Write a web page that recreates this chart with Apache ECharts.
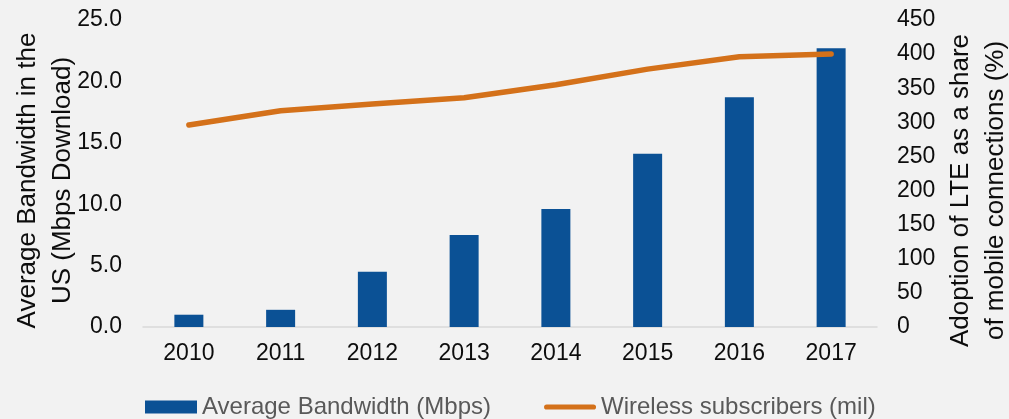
<!DOCTYPE html>
<html>
<head>
<meta charset="utf-8">
<script src="https://cdn.jsdelivr.net/npm/echarts@6/dist/echarts.min.js"></script>
<style>
  html, body { margin: 0; padding: 0; background: #f2f2f2; }
  #chart { width: 1009px; height: 419px; }
</style>
</head>
<body>
<div id="chart"></div>
<script>
const years = ['2010', '2011', '2012', '2013', '2014', '2015', '2016', '2017']
const bandwidth = [1.0, 1.4, 4.5, 7.5, 9.6, 14.1, 18.7, 22.7]
const subscribers = [296, 317, 327, 336, 355, 378, 396, 400]

const font = 'Liberation Sans, Arial, sans-serif'
const chart = echarts.init(document.getElementById('chart'))
chart.setOption({
  backgroundColor: '#f2f2f2',
  animation: false,
  textStyle: { fontFamily: font },
  grid: { left: 143, right: 132, top: 20, bottom: 92, outerBoundsMode: 'none' },
  legend: {
    top: 390,
    left: 140,
    itemGap: 53,
    itemWidth: 52,
    itemHeight: 13,
    textStyle: { color: '#595959', fontSize: 24, fontFamily: font },
    data: [
      { name: 'Average Bandwidth (Mbps)', icon: 'rect' },
      { name: 'Wireless subscribers (mil)', icon: 'path://M3,0h54a3,3 0 0 1 0,6h-54a3,3 0 0 1 0,-6z' }
    ]
  },
  xAxis: {
    type: 'category',
    data: years,
    axisLine: { lineStyle: { color: '#d9d9d9', width: 1.5 } },
    axisTick: { show: false },
    axisLabel: { color: '#0d0d0d', fontSize: 23, margin: 15 }
  },
  yAxis: [
    {
      type: 'value',
      min: 0,
      max: 25,
      interval: 5,
      name: 'Average Bandwidth in the\nUS (Mbps Download)',
      nameLocation: 'middle',
      nameGap: 63,
      nameRotate: 90,
      nameMoveOverlap: false,
      nameTextStyle: { color: '#0d0d0d', fontSize: 26, lineHeight: 35, padding: [0, 14, 0, 0] },
      axisLabel: {
        color: '#0d0d0d',
        fontSize: 23,
        margin: 21,
        formatter: (v) => v.toFixed(1)
      },
      axisLine: { show: false },
      axisTick: { show: false },
      splitLine: { show: false }
    },
    {
      type: 'value',
      min: 0,
      max: 450,
      interval: 50,
      name: 'Adoption of LTE as a share\nof mobile connections (%)',
      nameLocation: 'middle',
      nameGap: 66,
      nameRotate: 90,
      nameMoveOverlap: false,
      nameTextStyle: { color: '#0d0d0d', fontSize: 26, lineHeight: 35, padding: [0, 34, 0, 0] },
      axisLabel: { color: '#0d0d0d', fontSize: 23, margin: 20 },
      axisLine: { show: false },
      axisTick: { show: false },
      splitLine: { show: false }
    }
  ],
  series: [
    {
      name: 'Average Bandwidth (Mbps)',
      type: 'bar',
      data: bandwidth,
      barWidth: 29,
      itemStyle: { color: '#0b5195' }
    },
    {
      name: 'Wireless subscribers (mil)',
      type: 'line',
      yAxisIndex: 1,
      data: subscribers,
      showSymbol: false,
      symbol: 'none',
      lineStyle: { color: '#d4711a', width: 5.5, cap: 'round' },
      itemStyle: { color: '#d4711a' }
    }
  ]
})
</script>
</body>
</html>
